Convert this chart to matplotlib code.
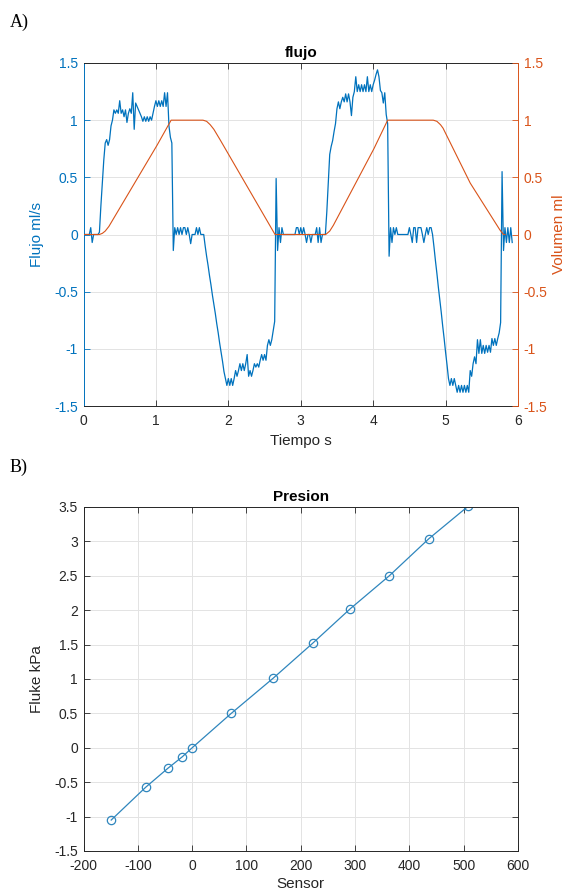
import numpy as np
import matplotlib
matplotlib.use("Agg")
import matplotlib.pyplot as plt

plt.rcParams['font.family'] = ['Liberation Sans', 'DejaVu Sans']
plt.rcParams['axes.unicode_minus'] = False

# ---------------- Data: panel A (flujo) ----------------
dt_flujo = 0.02  # sampling step of the flow record (s)
flujo = [
    0, 0, 0, 0, 0, 0.06, -0.07, 0, 0, 0,
    0, 0.02, 0.25, 0.45, 0.65, 0.80, 0.83, 0.78, 0.83, 0.95,
    1.0, 1.09, 1.06, 1.09, 1.06, 1.17, 1.06, 1.09, 1.03, 1.09,
    0.98, 1.06, 1.10, 1.06, 1.24, 0.92, 1.15, 1.12, 1.09, 1.06,
    1.03, 0.99, 1.03, 0.99, 1.03, 0.99, 1.03, 1.0, 1.06, 1.12,
    1.17, 1.12, 1.17, 1.12, 1.17, 1.12, 1.24, 1.12, 1.24, 0.95,
    0.85, 0.80, -0.14, 0.06, 0, 0.06, 0, 0.06, 0, 0.06,
    0.06, 0, 0.06, 0, -0.08, 0, 0, 0, 0.06, 0,
    0.06, 0, 0, 0, -0.10, -0.19, -0.27, -0.36, -0.44, -0.53,
    -0.61, -0.69, -0.78, -0.86, -0.95, -1.03, -1.11, -1.20, -1.26, -1.32,
    -1.26, -1.32, -1.26, -1.32, -1.26, -1.19, -1.24, -1.19, -1.13, -1.19,
    -1.13, -1.19, -1.13, -1.05, -1.24, -1.19, -1.24, -1.19, -1.13, -1.16,
    -1.13, -1.16, -1.10, -1.05, -1.10, -1.05, -1.10, -0.97, -0.92, -0.97,
    -0.92, -0.84, -0.76, 0.49, -0.14, 0.06, -0.07, 0.06, 0, 0,
    0, 0, 0, 0, 0, 0, 0, 0.06, 0.06, 0,
    0.06, 0, 0.06, 0, -0.07, 0, 0, -0.07, 0, 0,
    0, 0.06, -0.07, 0.06, -0.07, 0, 0, 0, 0.20, 0.45,
    0.70, 0.77, 0.82, 0.90, 0.97, 1.10, 1.16, 1.10, 1.16, 1.20,
    1.16, 1.23, 1.16, 1.23, 1.16, 1.04, 1.20, 1.25, 1.38, 1.25,
    1.31, 1.25, 1.31, 1.25, 1.31, 1.25, 1.38, 1.25, 1.31, 1.25,
    1.31, 1.35, 1.40, 1.44, 1.38, 1.26, 1.24, 1.15, 1.24, 1.05,
    0.97, -0.19, 0.06, -0.07, 0.06, 0, 0.06, 0, 0, 0,
    0, 0, 0, 0, 0, 0.06, 0, -0.07, 0.06, 0.06,
    -0.07, 0.06, 0.06, 0.06, 0, -0.07, 0, 0.06, 0, 0.06,
    0.06, 0, -0.11, -0.23, -0.34, -0.46, -0.57, -0.68, -0.80, -0.91,
    -1.03, -1.14, -1.26, -1.32, -1.26, -1.32, -1.26, -1.32, -1.38, -1.32,
    -1.38, -1.32, -1.38, -1.32, -1.38, -1.32, -1.38, -1.19, -1.24, -1.13,
    -1.07, -1.13, -0.92, -1.04, -0.92, -1.04, -0.97, -1.04, -0.97, -1.03,
    -0.97, -1.03, -0.91, -0.97, -0.91, -0.97, -0.91, -0.86, -0.77, 0.55,
    -0.14, 0.06, -0.07, 0.06, -0.07, 0.06, -0.07,
]
tiempo = np.arange(len(flujo)) * dt_flujo

vol_t = [0, 0.22, 0.26, 0.30, 0.35, 1.015, 1.21, 1.65, 1.70, 1.75, 1.80, 1.885, 2.645,
         3.345, 3.40, 3.45, 4.01, 4.20, 4.83, 4.88, 4.93, 4.965, 5.34, 5.43, 5.75, 5.80, 5.82]
vol_v = [0, 0, 0.01, 0.03, 0.07, 0.78, 1.0, 1.0, 0.99, 0.96, 0.92, 0.83, 0,
         0, 0.03, 0.08, 0.75, 1.0, 1.0, 0.99, 0.96, 0.93, 0.45, 0.36, 0.04, 0, 0]

# ---------------- Data: panel B (presion) ----------------
sensor = [-149, -85, -45, -18, 0, 72, 149, 222, 291, 363, 436, 508]
fluke = [-1.05, -0.57, -0.30, -0.13, 0.0, 0.50, 1.01, 1.52, 2.02, 2.50, 3.04, 3.51]

# ---------------- Styling ----------------
BLUE = '#0072BD'
ORANGE = '#D95319'
DARK = '#262626'
GRID = '#e3e3e3'
TICKFS = 10
LABFS = 11

W, H = 566, 890
fig = plt.figure(figsize=(W / 100, H / 100), dpi=100)

def box(l, t, r, b):
    return [l / W, 1 - b / H, (r - l) / W, (b - t) / H]

ylab_a = ['-1.5', '-1', '-0.5', '0', '0.5', '1', '1.5']

# ---- Panel A ----
ax = fig.add_axes(box(83.5, 63, 518, 406))
ax.plot(tiempo, flujo, color=BLUE, lw=0.9)
ax.set_xlim(0, 6)
ax.set_ylim(-1.5, 1.5)
ax.set_xticks(range(0, 7))
ax.set_yticks([-1.5, -1, -0.5, 0, 0.5, 1, 1.5])
ax.set_yticklabels(ylab_a)
ax.grid(True, color=GRID, lw=0.7)
ax.set_axisbelow(True)
ax.tick_params(axis='x', direction='in', top=True, length=4, width=0.6,
               colors=DARK, labelsize=TICKFS, pad=6)
ax.tick_params(axis='y', direction='in', length=4, width=0.6, colors=BLUE,
               labelsize=TICKFS, right=False, pad=4)
ax.spines['left'].set_color(BLUE)
ax.spines['right'].set_visible(False)
ax.spines['top'].set_color(DARK)
ax.spines['bottom'].set_color(DARK)
for s in ax.spines.values():
    s.set_linewidth(0.7)
ax.set_title('flujo', fontsize=LABFS, fontweight='bold', color='black', pad=4)
ax.set_xlabel('Tiempo s', fontsize=LABFS, color=DARK, labelpad=4)
ax.set_ylabel('Flujo ml/s', fontsize=LABFS, color=BLUE, labelpad=7)

ax2 = ax.twinx()
ax2.plot(vol_t, vol_v, color=ORANGE, lw=0.8)
ax2.set_ylim(-1.5, 1.5)
ax2.set_yticks([-1.5, -1, -0.5, 0, 0.5, 1, 1.5])
ax2.set_yticklabels(ylab_a)
ax2.tick_params(axis='y', direction='in', length=4, width=0.6, colors=ORANGE,
                labelsize=TICKFS, pad=4)
ax2.spines['right'].set_color(ORANGE)
ax2.spines['right'].set_linewidth(0.7)
for k in ['left', 'top', 'bottom']:
    ax2.spines[k].set_visible(False)
ax2.set_ylabel('Volumen ml', fontsize=LABFS, color=ORANGE, rotation=90, labelpad=3)

# ---- Panel B ----
bx = fig.add_axes(box(83.5, 507, 518, 851))
bx.plot(sensor, fluke, color='#2f86bd', lw=0.9, marker='o', ms=6,
        mfc='none', mec='#2f86bd', mew=0.9)
bx.set_xlim(-200, 600)
bx.set_ylim(-1.5, 3.5)
bx.set_xticks(range(-200, 601, 100))
bx.set_yticks([-1.5, -1, -0.5, 0, 0.5, 1, 1.5, 2, 2.5, 3, 3.5])
bx.set_yticklabels(['-1.5', '-1', '-0.5', '0', '0.5', '1', '1.5', '2', '2.5', '3', '3.5'])
bx.grid(True, color=GRID, lw=0.7)
bx.set_axisbelow(True)
bx.tick_params(direction='in', top=True, right=True, length=4, width=0.6,
               colors=DARK, labelsize=TICKFS)
bx.tick_params(axis='x', pad=6)
bx.tick_params(axis='y', pad=4)
for s in bx.spines.values():
    s.set_color(DARK)
    s.set_linewidth(0.7)
bx.set_title('Presion', fontsize=LABFS, fontweight='bold', color='black', pad=4)
bx.set_xlabel('Sensor', fontsize=LABFS, color=DARK, labelpad=3)
bx.set_ylabel('Fluke kPa', fontsize=LABFS, color=DARK, labelpad=7)

# Panel letters
fig.text(10 / W, 1 - 22 / H, 'A)', fontsize=13, family=['Liberation Serif'],
         va='center', ha='left')
fig.text(10 / W, 1 - 467 / H, 'B)', fontsize=13, family=['Liberation Serif'],
         va='center', ha='left')

fig.savefig('out.png', dpi=100, facecolor='white')
